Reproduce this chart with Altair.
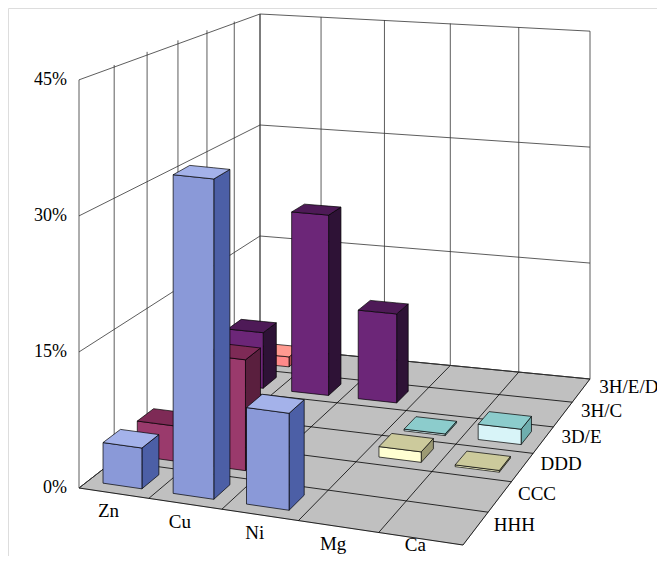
import altair as alt
import pandas as pd
import numpy as np

metals = ["Zn", "Cu", "Ni", "Mg", "Ca"]
series = ["HHH", "CCC", "DDD", "3D/E", "3H/C", "3H/E/D"]
# values in % per series (rows front to back), per metal
HHH = [4.5, 35.0, 10.5, 0.0, 0.0]
CCC = [4.0, 12.5, 0.0, 0.0, 0.0]
DDD = [0.0, 0.0, 0.0, 1.2, 0.2]
D3E = [0.0, 0.0, 0.0, 0.2, 1.8]
H3C = [7.0, 22.5, 11.0, 0.0, 0.0]
H3ED = [1.3, 0.0, 0.0, 0.0, 0.0]
values = [HHH, CCC, DDD, D3E, H3C, H3ED]
ticks = [0, 15, 30, 45]
tick_labels = ["0%", "15%", "30%", "45%"]

colors = [
    ("#8A99D8", "#4C5FA6", "#A4B2EA"),
    ("#9A3A6C", "#5A1F3E", "#7E2A56"),
    ("#FFFFD2", "#9C9A74", "#CCCA9C"),
    ("#D8F4F8", "#6FAEAE", "#8CCCCC"),
    ("#6C2678", "#2E1236", "#4E1A57"),
    ("#FF8A8A", "#B05454", "#FF9A90"),
]

A = (79, 488); B = (463, 545); C = (590, 379); D = (260, 347)
KA, KB, KC, KD = 9.07, 9.5, 7.73, 7.4
src = [(0, 0), (1, 0), (1, 1), (0, 1)]
dst = [A, B, C, D]
M = []; R = []
for (u, v), (X, Y) in zip(src, dst):
    M.append([u, v, 1, 0, 0, 0, -u*X, -v*X]); R.append(X)
    M.append([0, 0, 0, u, v, 1, -u*Y, -v*Y]); R.append(Y)
a, b, c, d, e, f, g, h = np.linalg.solve(np.array(M, float), np.array(R, float))

def proj(s, t, z):
    u, v = s / 5, t / 6
    w = g*u + h*v + 1
    x = (a*u + b*v + c) / w
    y = (d*u + e*v + f) / w
    k = (1-u)*(1-v)*KA + u*(1-v)*KB + u*v*KC + (1-u)*v*KD
    return x, y - k * z

rows = []
pid = [0]
def poly(verts, fill):
    xs = sorted(set(round(v[0], 3) for v in verts))
    n = len(verts)
    for xq in xs:
        ys = []
        for i in range(n):
            x1, y1 = verts[i]; x2, y2 = verts[(i+1) % n]
            lo, hi = min(x1, x2), max(x1, x2)
            if lo - 1e-3 <= xq <= hi + 1e-3:
                if abs(x2 - x1) < 1e-6:
                    ys += [y1, y2]
                else:
                    fr = min(max((xq - x1) / (x2 - x1), 0), 1)
                    ys.append(y1 + fr*(y2 - y1))
        rows.append(dict(pid="p%04d" % pid[0], x=xq, y=min(ys), y2=max(ys), fill=fill))
    pid[0] += 1

poly([proj(0, 0, 0), proj(5, 0, 0), proj(5, 6, 0), proj(0, 6, 0)], "#C0C0C0")

lines = []
lid = [0]
def line(p, q, col="#000000"):
    lines.append(dict(lid=lid[0], x=p[0], y=p[1], c=col, o=0))
    lines.append(dict(lid=lid[0], x=q[0], y=q[1], c=col, o=1))
    lid[0] += 1

for i in range(6):
    line(proj(i, 0, 0), proj(i, 6, 0))
for j in range(7):
    line(proj(0, j, 0), proj(5, j, 0))
for j in range(7):
    line(proj(0, j, 0), proj(0, j, 45), "#333333")
for z in ticks:
    line(proj(0, 0, z), proj(0, 6, z), "#333333")
for i in range(6):
    line(proj(i, 6, 0), proj(i, 6, 45), "#333333")
for z in ticks:
    line(proj(0, 6, z), proj(5, 6, z), "#333333")

for j in range(5, -1, -1):
    for i in range(5):
        val = values[j][i]
        if val <= 0:
            continue
        s0, s1 = i + 0.22, i + 0.78
        t0, t1 = j + 0.25, j + 0.75
        fc, sc, tc = colors[j]
        poly([proj(s1, t0, 0), proj(s1, t1, 0), proj(s1, t1, val), proj(s1, t0, val)], sc)
        poly([proj(s0, t0, 0), proj(s1, t0, 0), proj(s1, t0, val), proj(s0, t0, val)], fc)
        poly([proj(s0, t0, val), proj(s1, t0, val), proj(s1, t1, val), proj(s0, t1, val)], tc)

df = pd.DataFrame(rows)
ldf = pd.DataFrame(lines)

xs = alt.Scale(domain=[8, 657])
ys = alt.Scale(domain=[556, 8])

floor_df = df[df.pid == "p0000"]
bars_df = df[df.pid != "p0000"]

floor_layer = alt.Chart(floor_df).mark_area(fill="#C0C0C0", stroke="#808080", strokeWidth=0.6).encode(
    x=alt.X("x:Q", scale=xs, axis=None), y=alt.Y("y:Q", scale=ys, axis=None), y2="y2:Q")

grid = alt.Chart(ldf).mark_line(strokeWidth=0.8).encode(
    x=alt.X("x:Q", scale=xs, axis=None), y=alt.Y("y:Q", scale=ys, axis=None),
    detail="lid:N", order="o:Q", color=alt.Color("c:N", scale=None))

bars = alt.Chart(bars_df).mark_area(stroke="#000000", strokeWidth=0.7).encode(
    x=alt.X("x:Q", scale=xs, axis=None), y=alt.Y("y:Q", scale=ys, axis=None), y2="y2:Q",
    detail="pid:N", fill=alt.Fill("fill:N", scale=None))

tl = []
for z, lab in zip(ticks, tick_labels):
    x, y = proj(0, 0, z)
    tl.append(dict(x=x - 12, y=y, t=lab))
tdf = pd.DataFrame(tl)
ml = []
for i, m in enumerate(metals):
    x, y = proj(i + 0.5, 0, 0)
    ml.append(dict(x=x - 5, y=min(y + 18, 545), t=m))
mdf = pd.DataFrame(ml)
sl = []
for j, sname in enumerate(series):
    x, y = proj(5, j + 0.5, 0)
    sl.append(dict(x=x + 18, y=y - 3, t=sname))
sdf = pd.DataFrame(sl)

font = "Liberation Serif"
ticks_layer = alt.Chart(tdf).mark_text(align="right", baseline="middle", font=font, fontSize=18).encode(
    x=alt.X("x:Q", scale=xs, axis=None), y=alt.Y("y:Q", scale=ys, axis=None), text="t:N")
met_layer = alt.Chart(mdf).mark_text(align="center", baseline="middle", font=font, fontSize=19).encode(
    x=alt.X("x:Q", scale=xs, axis=None), y=alt.Y("y:Q", scale=ys, axis=None), text="t:N")
ser_layer = alt.Chart(sdf).mark_text(align="left", baseline="middle", font=font, fontSize=19).encode(
    x=alt.X("x:Q", scale=xs, axis=None), y=alt.Y("y:Q", scale=ys, axis=None), text="t:N")

chart = alt.layer(floor_layer, grid, bars, ticks_layer, met_layer, ser_layer).properties(
    width=649, height=548, autosize=alt.AutoSizeParams(type="none"), padding=0
).configure_view(stroke=None).configure(background="white")

chart.save("out.html", embed_options={"renderer": "svg", "actions": False})
